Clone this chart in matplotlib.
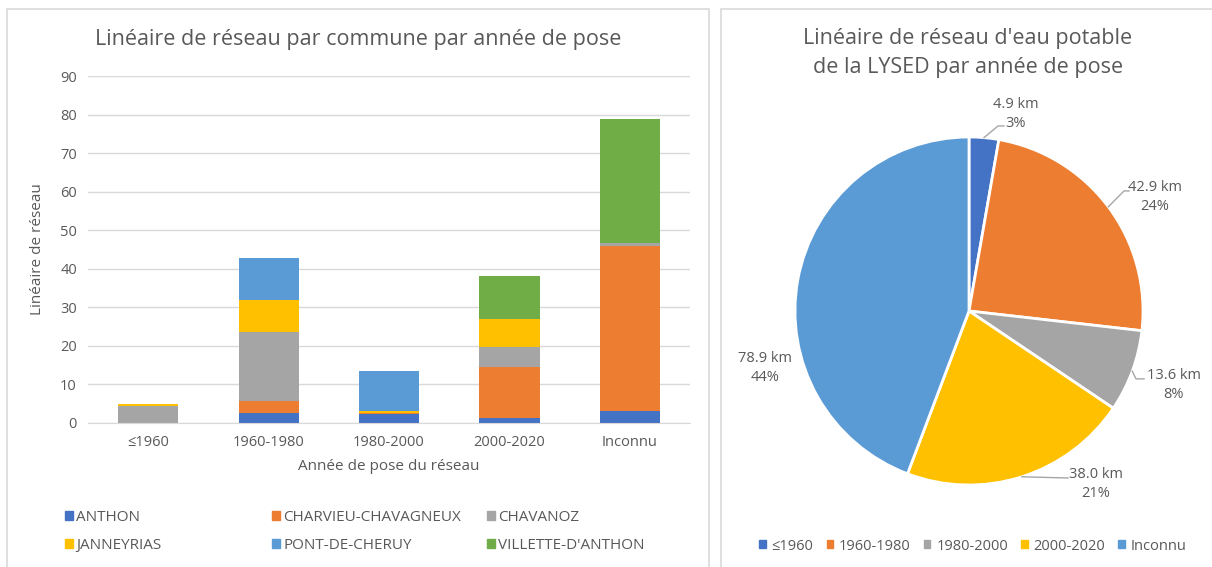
import numpy as np
import matplotlib.pyplot as plt
from matplotlib.patches import Rectangle, Patch

plt.rcParams['font.family'] = ['Open Sans', 'DejaVu Sans']

# Données
annees = ["≤1960", "1960-1980", "1980-2000", "2000-2020", "Inconnu"]
communes = ["ANTHON", "CHARVIEU-CHAVAGNEUX", "CHAVANOZ",
            "JANNEYRIAS", "PONT-DE-CHERUY", "VILLETTE-D'ANTHON"]
anthon = [0.0, 2.6, 2.3, 1.2, 3.1]
charvieu = [0.1, 3.1, 0.4, 13.4, 42.9]
chavanoz = [4.4, 17.8, 0.0, 5.2, 0.7]
janneyrias = [0.4, 8.4, 0.4, 7.3, 0.0]
pont = [0.0, 10.9, 10.4, 0.0, 0.0]
villette = [0.0, 0.1, 0.1, 10.9, 32.2]
series = [anthon, charvieu, chavanoz, janneyrias, pont, villette]

pie_km = [4.9, 42.9, 13.6, 38.0, 78.9]

couleurs = ["#4472C4", "#ED7D31", "#A5A5A5", "#FFC000", "#5B9BD5", "#70AD47"]
texte = "#595959"

W, H = 1212, 567
fig = plt.figure(figsize=(W / 100, H / 100), dpi=100)


def px(x0, y0, x1, y1):
    # rectangle en pixels (origine en haut à gauche) -> coordonnées figure
    return [x0 / W, 1 - y1 / H, (x1 - x0) / W, (y1 - y0) / H]


# Cadres des deux graphiques
for x0, x1 in [(7, 709), (721, 1230)]:
    fig.patches.append(Rectangle((x0 / W, -0.1), (x1 - x0) / W, 1 - 9 / H + 0.1,
                                 transform=fig.transFigure, fill=False,
                                 edgecolor="#D9D9D9", linewidth=1.2))

# ---- Histogramme empilé ----
ax = fig.add_axes(px(88, 76, 690, 423))
x = np.arange(len(annees))
bas = np.zeros(len(annees))
for vals, c, nom in zip(series, couleurs, communes):
    ax.bar(x, vals, bottom=bas, width=0.5, color=c, label=nom)
    bas += np.array(vals)

ax.set_ylim(0, 90)
ax.set_xlim(-0.5, len(annees) - 0.5)
ax.set_yticks(range(0, 91, 10))
ax.set_xticks(x)
ax.set_xticklabels(annees)
ax.yaxis.grid(True, color="#D9D9D9", linewidth=1)
ax.set_axisbelow(True)
for s in ["top", "right", "left"]:
    ax.spines[s].set_visible(False)
ax.spines["bottom"].set_color("#D9D9D9")
ax.tick_params(length=0, colors=texte, labelsize=10.5)
ax.tick_params(axis="x", pad=9)
ax.tick_params(axis="y", pad=8)
ax.set_xlabel("Année de pose du réseau", color=texte, fontsize=11, labelpad=6)
ax.set_ylabel("Linéaire de réseau", color=texte, fontsize=11, labelpad=11)
fig.text(358 / W, 1 - 40 / H, "Linéaire de réseau par commune par année de pose",
         ha="center", va="center", color=texte, fontsize=15.5)

# légende en trois colonnes
poignees = [Patch(color=c) for c in couleurs]
for col, x_col in enumerate([65, 272, 487]):
    idx = [col, col + 3]
    fig.legend([poignees[i] for i in idx], [communes[i] for i in idx],
               loc="upper left", bbox_to_anchor=(x_col / W, 1 - 510 / H),
               frameon=False, fontsize=11, labelcolor=texte,
               handlelength=0.55, handleheight=0.55, handletextpad=0.2,
               labelspacing=0.85, borderpad=0, borderaxespad=0)

# ---- Camembert ----
axp = fig.add_axes(px(795, 137, 1143, 485))
parts, _ = axp.pie(pie_km, colors=couleurs[:5], startangle=90, counterclock=False,
                   wedgeprops=dict(edgecolor="white", linewidth=2))
axp.set_xlim(-1, 1)
axp.set_ylim(-1, 1)
axp.set_aspect("equal")

total = sum(pie_km)
# position des étiquettes (angle en degrés, distance relative au rayon)
pos_etiq = [(76.6, 1.164), (31.5, 1.254), (-19.8, 1.252), (-53.7, 1.233), (195.6, 1.217)]
# lignes de rappel : (coude, fin) relatifs à l'étiquette
rappels = {0: ((-0.103, -0.069), (-0.069, -0.069)),
           1: ((-0.178, 0.035), (-0.149, 0.035)),
           2: ((-0.218, 0.034), (-0.172, 0.034)),
           3: ((-0.161, 0.034), (-0.161, 0.034))}
for i, (v, (ang, d)) in enumerate(zip(pie_km, pos_etiq)):
    a = np.deg2rad(ang)
    lx, ly = d * np.cos(a), d * np.sin(a)
    axp.text(lx, ly, f"{v:.1f} km\n{v / total:.0%}",
             ha="center", va="center", color=texte, fontsize=10.5,
             linespacing=1.35)
    if i in rappels:
        w = parts[i]
        mid = np.deg2rad((w.theta1 + w.theta2) / 2)
        (cx, cy), (ex, ey) = rappels[i]
        axp.plot([np.cos(mid), lx + cx, lx + ex], [np.sin(mid), ly + cy, ly + ey],
                 color="#A6A6A6", linewidth=1, clip_on=False)

fig.text(968 / W, 1 - 53 / H,
         "Linéaire de réseau d'eau potable\nde la LYSED par année de pose",
         ha="center", va="center", color=texte, fontsize=15.5, linespacing=1.45)

fig.legend([Patch(color=c) for c in couleurs[:5]], annees, ncol=5, loc="center",
           bbox_to_anchor=(973 / W, 1 - 546 / H),
           frameon=False, fontsize=10.5, labelcolor=texte,
           handlelength=0.45, handleheight=0.45, handletextpad=0.4,
           columnspacing=0.9)

fig.savefig("out.png", dpi=100, facecolor="white")
